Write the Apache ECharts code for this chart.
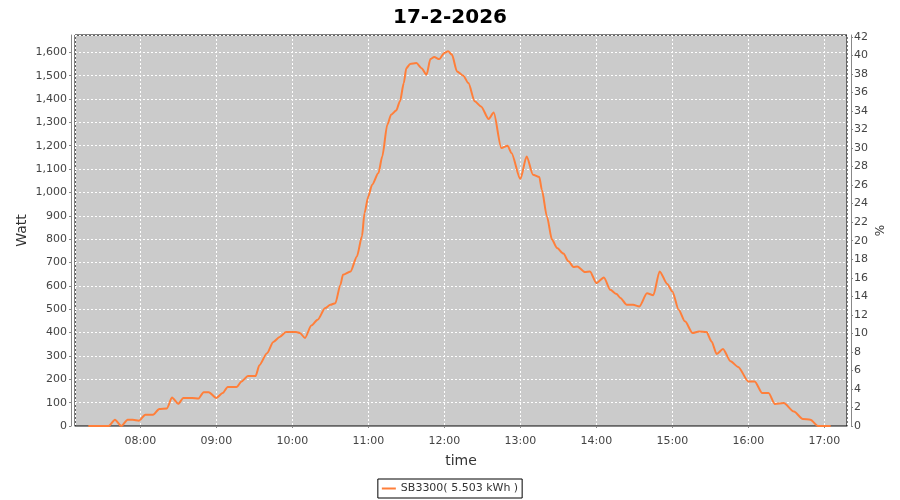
<!DOCTYPE html>
<html><head><meta charset="utf-8">
<script src="https://cdn.jsdelivr.net/npm/echarts@6/dist/echarts.min.js"></script>
<style>html,body{margin:0;padding:0;background:#fff}#c{width:900px;height:500px}</style>
</head><body><div id="c"></div>
<script>
var titleText = '17-2-2026';
var seriesName = 'SB3300( 5.503 kWh )';
var times = ['07:19','07:35','07:40','07:45','07:50','07:54','07:59','08:04','08:10','08:15','08:21','08:25','08:30','08:34','08:41','08:46','08:50','08:54','09:00','09:05','09:09','09:16','09:20','09:25','09:31','09:34','09:40','09:45','09:50','09:55','10:03','10:06','10:10','10:15','10:20','10:26','10:30','10:34','10:38','10:40','10:46','10:51','10:55','10:57','11:00','11:03','11:08','11:11','11:15','11:18','11:22','11:25','11:28','11:30','11:33','11:38','11:42','11:46','11:49','11:52','11:56','12:00','12:03','12:06','12:10','12:15','12:19','12:24','12:29','12:35','12:39','12:45','12:50','12:53','13:00','13:05','13:10','13:15','13:17','13:21','13:25','13:29','13:34','13:38','13:42','13:45','13:51','13:55','14:00','14:06','14:11','14:16','14:19','14:24','14:29','14:34','14:40','14:45','14:50','14:56','15:00','15:05','15:10','15:16','15:21','15:27','15:31','15:35','15:40','15:46','15:52','16:00','16:05','16:11','16:16','16:21','16:28','16:36','16:43','16:49','16:55','17:05'];
var watts = [0,0,27,0,27,27,23,48,48,73,75,122,95,120,120,118,145,145,120,141,167,167,191,214,214,260,312,360,381,402,402,398,377,430,455,505,519,526,605,648,662,726,812,912,983,1033,1083,1154,1290,1333,1351,1390,1468,1532,1550,1554,1532,1504,1571,1580,1571,1597,1604,1590,1518,1500,1468,1390,1368,1314,1342,1190,1200,1169,1057,1154,1076,1066,1011,897,798,762,738,705,681,683,659,662,612,636,583,565,548,519,519,512,568,560,662,608,576,498,448,398,405,402,362,308,330,277,253,191,191,141,141,94,98,62,30,27,0,0];
var wattMax = 1674;
var pctMax = 42.2;

function ts(s, sec) { var p = s.split(':'); return new Date(2026, 1, 17, +p[0], +p[1], sec || 0).getTime(); }
var data = times.map(function (t, i) { return [ts(t), watts[i]]; });

var FONT = 'DejaVu Sans';
var chart = echarts.init(document.getElementById('c'), null, { renderer: 'canvas' });
chart.setOption({
  animation: false,
  backgroundColor: '#ffffff',
  title: { text: titleText, left: 'center', top: 3, textStyle: { fontFamily: FONT, fontSize: 20, fontWeight: 'bold', color: '#000' } },
  grid: { left: 75, right: 53, top: 35, bottom: 74, show: true, backgroundColor: '#cbcbcb', borderColor: '#000', borderWidth: 1 },
  legend: {
    bottom: 2, left: 'center', data: [seriesName],
    borderColor: '#000', borderWidth: 1, padding: [4, 4], borderRadius: 0,
    icon: 'rect', itemWidth: 14, itemHeight: 2, itemGap: 4,
    textStyle: { fontFamily: FONT, fontSize: 11, color: '#333' }
  },
  xAxis: {
    type: 'time', min: ts('07:08', 27), max: ts('17:17', 54), offset: 4,
    minInterval: 3600000, maxInterval: 3600000, splitNumber: 10,
    name: 'time', nameLocation: 'middle', nameGap: 24,
    nameTextStyle: { fontFamily: FONT, fontSize: 14, color: '#333' },
    axisLine: { lineStyle: { color: '#888', width: 1 } },
    axisTick: { show: true, length: 2, lineStyle: { color: '#888' } },
    axisLabel: { formatter: '{HH}:{mm}', fontFamily: FONT, fontSize: 11, color: '#444', margin: 6, showMinLabel: false, showMaxLabel: false, hideOverlap: false },
    splitLine: { show: true, lineStyle: { color: '#ffffff', type: [2, 2], width: 1 } }
  },
  yAxis: [{
    type: 'value', min: 0, max: wattMax, interval: 100, offset: 4, position: 'left',
    name: 'Watt', nameLocation: 'middle', nameGap: 42, nameRotate: 90, nameMoveOverlap: false,
    nameTextStyle: { fontFamily: FONT, fontSize: 14, color: '#333' },
    axisLine: { show: true, lineStyle: { color: '#888' } },
    axisTick: { show: true, length: 2, lineStyle: { color: '#888' } },
    axisLabel: { fontFamily: FONT, fontSize: 11, color: '#444', margin: 4, showMaxLabel: false,
      formatter: function (v) { return v.toLocaleString('en-US'); } },
    splitLine: { show: true, lineStyle: { color: '#ffffff', type: [2, 2], width: 1 } }
  }, {
    type: 'value', min: 0, max: pctMax, interval: 2, offset: 4, position: 'right',
    name: '%', nameLocation: 'middle', nameGap: 24, nameRotate: 90, nameMoveOverlap: false,
    nameTextStyle: { fontFamily: FONT, fontSize: 12, color: '#333' },
    axisLine: { show: true, lineStyle: { color: '#888' } },
    axisTick: { show: true, length: 2, lineStyle: { color: '#888' } },
    axisLabel: { fontFamily: FONT, fontSize: 11, color: '#444', margin: 3, showMaxLabel: false },
    splitLine: { show: false }
  }],
  series: [{
    name: seriesName, type: 'line', yAxisIndex: 0, data: data,
    showSymbol: false, smooth: 0.25, smoothMonotone: 'x',
    lineStyle: { color: '#ff7f3a', width: 2 }, itemStyle: { color: '#ff7f3a' }
  }]
});
</script></body></html>
